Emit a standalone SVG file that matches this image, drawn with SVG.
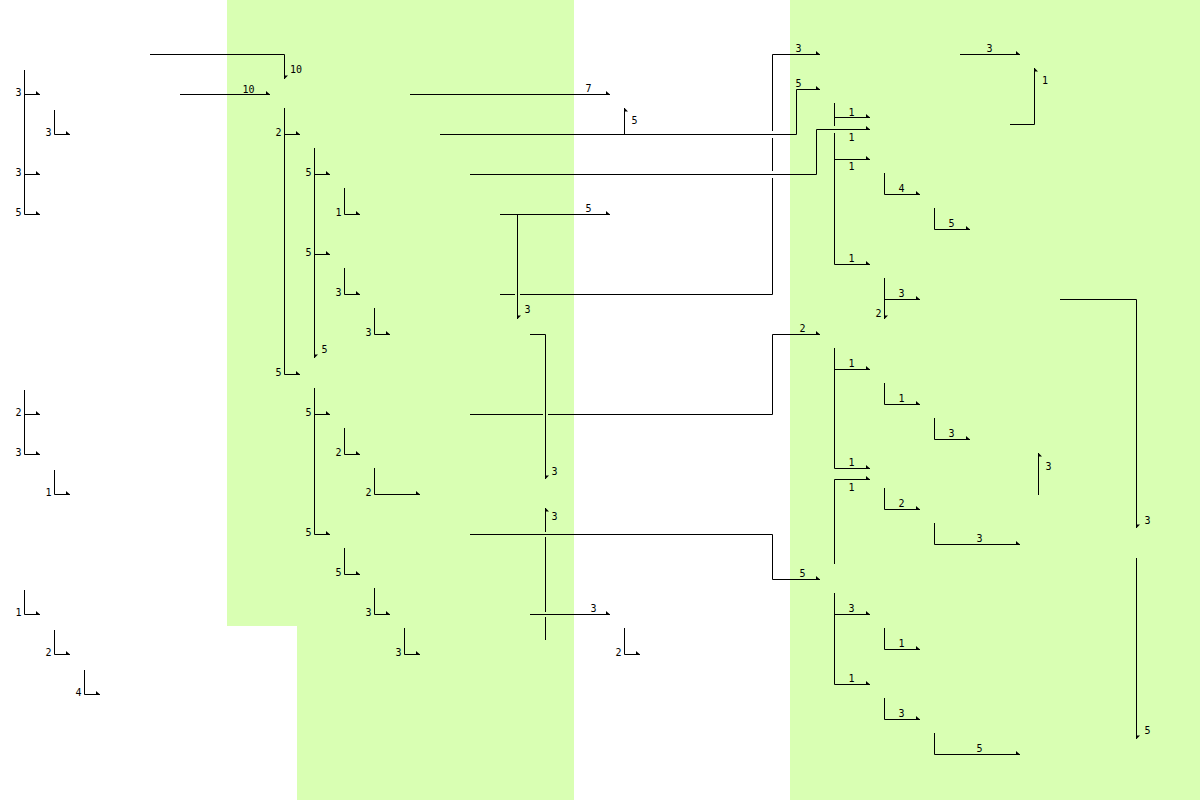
<svg xmlns="http://www.w3.org/2000/svg" width="1200" height="800" viewBox="0 0 1200 800">
<style>
.e{fill:none;stroke:#000;stroke-width:1}
.r{marker-end:url(#ar)}
.d{marker-end:url(#ad)}
.u{marker-end:url(#au)}
text{font-family:"DejaVu Sans Mono","Liberation Mono",monospace;font-size:10px;fill:#000;text-anchor:middle}
</style>
<defs>
<marker id="ar" markerUnits="userSpaceOnUse" viewBox="-6 -6 12 12" refX="0" refY="0" markerWidth="12" markerHeight="12" orient="0"><path d="M-4,-3.5 L0,0 L-4,0 Z" fill="#000"/></marker>
<marker id="ad" markerUnits="userSpaceOnUse" viewBox="-6 -6 12 12" refX="0" refY="0" markerWidth="12" markerHeight="12" orient="0"><path d="M0,-3.5 L3.5,-3.5 L0,0 Z" fill="#000"/></marker>
<marker id="au" markerUnits="userSpaceOnUse" viewBox="-6 -6 12 12" refX="0" refY="0" markerWidth="12" markerHeight="12" orient="0"><path d="M0,0 L0,3.5 L3.5,3.5 Z" fill="#000"/></marker>
</defs>
<rect width="1200" height="800" fill="#fff"/>
<path d="M227,0 H574 V800 H297 V626 H227 Z" fill="#d9ffb3"/>
<rect x="790" y="0" width="410" height="800" fill="#d9ffb3"/>

<g id="tree-left-1">
<path class="e r" d="M24.5,70 V214.5 H40"/>
<path class="e r" d="M24.5,94.5 H40"/>
<path class="e r" d="M24.5,174.5 H40"/>
<path class="e r" d="M54.5,110 V134.5 H70"/>
<text x="18.5" y="96">3</text><text x="48.5" y="136">3</text><text x="18.5" y="176">3</text><text x="18.5" y="216">5</text>
</g>
<g id="tree-left-2">
<path class="e r" d="M24.5,390 V454.5 H40"/>
<path class="e r" d="M24.5,414.5 H40"/>
<path class="e r" d="M54.5,470 V494.5 H70"/>
<text x="18.5" y="416">2</text><text x="18.5" y="456">3</text><text x="48.5" y="496">1</text>
</g>
<g id="tree-left-3">
<path class="e r" d="M24.5,590 V614.5 H40"/>
<path class="e r" d="M54.5,630 V654.5 H70"/>
<path class="e r" d="M84.5,670 V694.5 H100"/>
<text x="18.5" y="616">1</text><text x="48.5" y="656">2</text><text x="78.5" y="696">4</text>
</g>

<g id="tree-mid-1">
<path class="e r" d="M284.5,108 V374.5 H300"/>
<path class="e r" d="M284.5,134.5 H300"/>
<path class="e d" d="M314.5,148 V358"/>
<path class="e r" d="M314.5,174.5 H330"/>
<path class="e r" d="M314.5,254.5 H330"/>
<path class="e r" d="M344.5,188 V214.5 H360"/>
<path class="e r" d="M344.5,268 V294.5 H360"/>
<path class="e r" d="M374.5,308 V334.5 H390"/>
<text x="278.5" y="136">2</text><text x="278.5" y="376">5</text>
<text x="308.5" y="176">5</text><text x="308.5" y="256">5</text><text x="324.5" y="353">5</text>
<text x="338.5" y="216">1</text><text x="338.5" y="296">3</text><text x="368.5" y="336">3</text>
</g>
<g id="tree-mid-2">
<path class="e r" d="M314.5,388 V534.5 H330"/>
<path class="e r" d="M314.5,414.5 H330"/>
<path class="e r" d="M344.5,428 V454.5 H360"/>
<path class="e r" d="M374.5,468 V494.5 H420"/>
<path class="e r" d="M344.5,548 V574.5 H360"/>
<path class="e r" d="M374.5,588 V614.5 H390"/>
<path class="e r" d="M404.5,628 V654.5 H420"/>
<text x="308.5" y="416">5</text><text x="308.5" y="536">5</text>
<text x="338.5" y="456">2</text><text x="368.5" y="496">2</text>
<text x="338.5" y="576">5</text><text x="368.5" y="616">3</text><text x="398.5" y="656">3</text>
</g>
<g id="tree-mid-3">
<path class="e r" d="M624.5,628 V654.5 H640"/>
<text x="618.5" y="656">2</text>
</g>

<g id="tree-right-1">
<path class="e" d="M834.5,103 V126"/>
<path class="e r" d="M834.5,133 V264.5 H870"/>
<path class="e r" d="M834.5,117.5 H870"/>
<path class="e r" d="M834.5,159.5 H870"/>
<path class="e r" d="M884.5,173 V194.5 H920"/>
<path class="e r" d="M934.5,208 V229.5 H970"/>
<text x="851.5" y="115.5">1</text><text x="851.5" y="169.5">1</text><text x="851.5" y="262">1</text>
<text x="901.5" y="192">4</text><text x="951.5" y="227">5</text>
</g>
<g id="tree-right-2">
<path class="e d" d="M884.5,278 V319"/>
<path class="e r" d="M884.5,299.5 H920"/>
<text x="901.5" y="297">3</text><text x="878.5" y="316.5">2</text>
</g>
<g id="tree-right-3">
<path class="e r" d="M834.5,348 V468.5 H870"/>
<path class="e r" d="M834.5,369.5 H870"/>
<path class="e r" d="M884.5,383 V404.5 H920"/>
<path class="e r" d="M934.5,418 V439.5 H970"/>
<text x="851.5" y="367">1</text><text x="851.5" y="466">1</text>
<text x="901.5" y="402">1</text><text x="951.5" y="437">3</text>
</g>
<g id="tree-right-4">
<path class="e r" d="M834.5,564 V479.5 H870"/>
<path class="e r" d="M884.5,488 V509.5 H920"/>
<path class="e r" d="M934.5,523 V544.5 H1020"/>
<text x="851.5" y="490.5">1</text><text x="901.5" y="507">2</text><text x="979.5" y="542">3</text>
</g>
<g id="tree-right-5">
<path class="e r" d="M834.5,593 V684.5 H870"/>
<path class="e r" d="M834.5,614.5 H870"/>
<path class="e r" d="M884.5,628 V649.5 H920"/>
<path class="e r" d="M884.5,698 V719.5 H920"/>
<path class="e r" d="M934.5,733 V754.5 H1020"/>
<text x="851.5" y="612">3</text><text x="851.5" y="682">1</text>
<text x="901.5" y="647">1</text><text x="901.5" y="717">3</text><text x="979.5" y="752">5</text>
</g>

<g id="connectors">
<path class="e d" d="M150,54.5 H284.5 V79"/>
<path class="e r" d="M180,94.5 H270"/>
<path class="e r" d="M410,94.5 H610"/>
<path class="e r" d="M440,134.5 H796.5 V89.5 H820"/>
<path class="e u" d="M624.5,134.5 V108"/>
<path class="e r" d="M470,174.5 H816.5 V129.5 H870"/>
<path class="e r" d="M500,214.5 H610"/>
<path class="e d" d="M517.5,214.5 V319"/>
<path class="e" d="M500,294.5 H515"/>
<path class="e" d="M520,294.5 H772.5 V178"/>
<path class="e" d="M772.5,171 V138"/>
<path class="e r" d="M772.5,131 V54.5 H820"/>
<path class="e d" d="M530,334.5 H545.5 V479"/>
<path class="e" d="M470,414.5 H543"/>
<path class="e r" d="M548,414.5 H772.5 V334.5 H820"/>
<path class="e r" d="M470,534.5 H772.5 V579.5 H820"/>
<path class="e" d="M545.5,640 V617"/>
<path class="e" d="M545.5,612 V537"/>
<path class="e u" d="M545.5,532 V508"/>
<path class="e r" d="M530,614.5 H610"/>
<path class="e r" d="M960,54.5 H1020"/>
<path class="e u" d="M1010,124.5 H1034.5 V68"/>
<path class="e u" d="M1038.5,495 V453"/>
<path class="e d" d="M1060,299.5 H1136.5 V528"/>
<path class="e d" d="M1136.5,558 V739"/>
</g>
<g id="connector-labels">
<text x="296" y="73">10</text>
<text x="248.5" y="93">10</text>
<text x="588.5" y="92">7</text>
<text x="634.5" y="124">5</text>
<text x="588.5" y="212">5</text>
<text x="527.5" y="313">3</text>
<text x="554.5" y="475">3</text>
<text x="554.5" y="520">3</text>
<text x="593.5" y="612">3</text>
<text x="798.5" y="52">3</text>
<text x="798.5" y="87">5</text>
<text x="851.5" y="140.5">1</text>
<text x="802.5" y="332">2</text>
<text x="802.5" y="577">5</text>
<text x="989.5" y="52">3</text>
<text x="1045" y="84">1</text>
<text x="1048.5" y="469.5">3</text>
<text x="1147.5" y="524">3</text>
<text x="1147.5" y="734">5</text>
</g>
</svg>
